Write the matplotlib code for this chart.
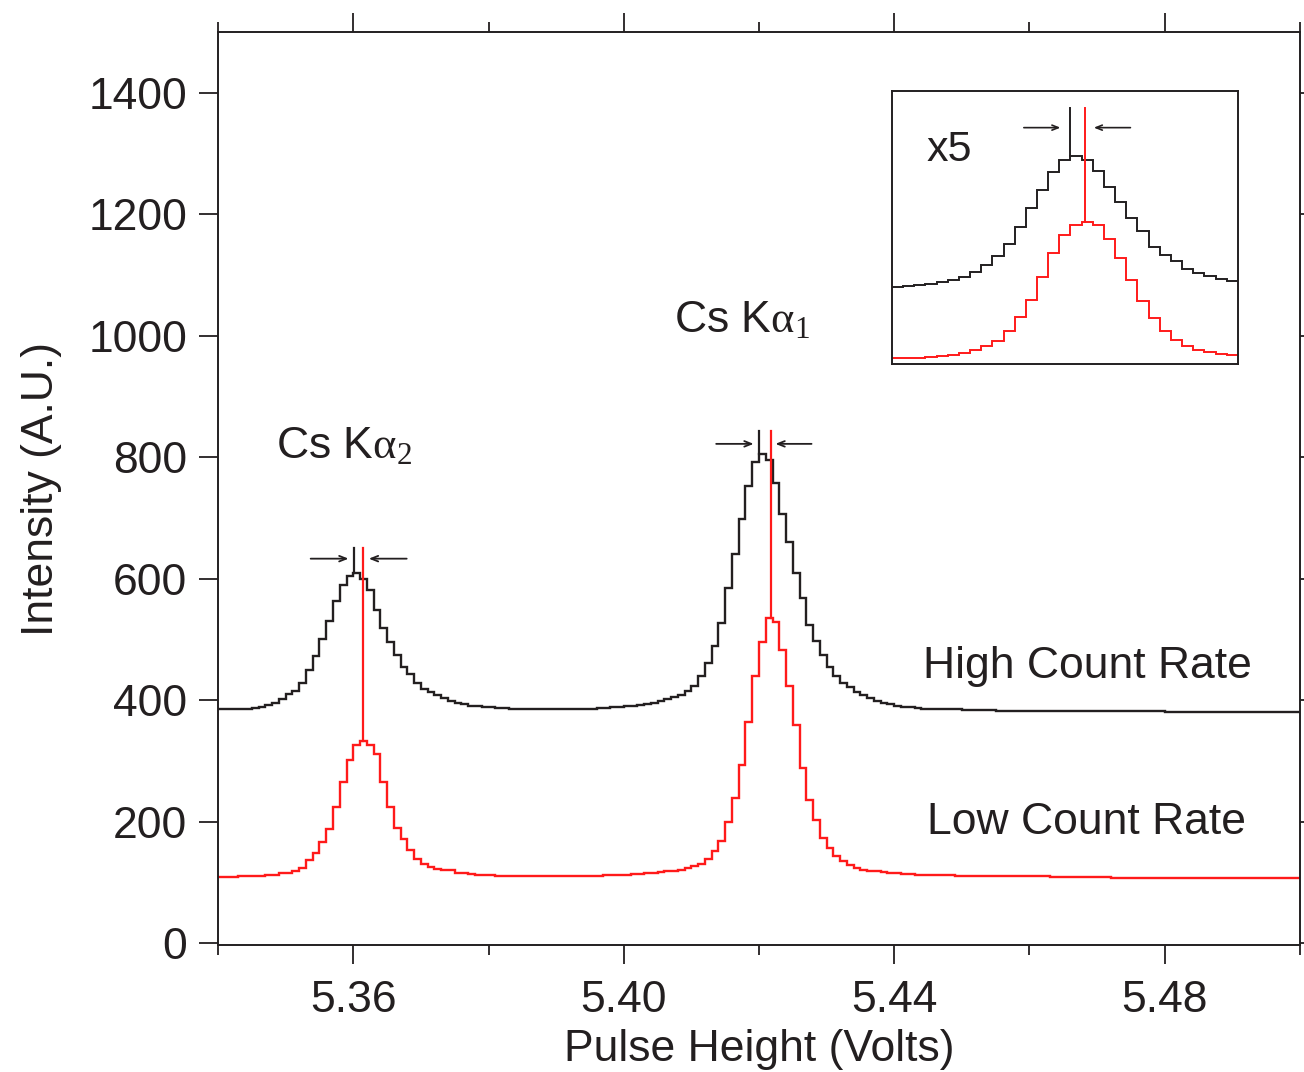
import numpy as np
import matplotlib
matplotlib.use("Agg")
import matplotlib.pyplot as plt

plt.rcParams['font.family'] = ['Liberation Sans', 'DejaVu Sans']
plt.rcParams['mathtext.fontset'] = 'custom'
plt.rcParams['mathtext.rm'] = 'Liberation Serif'
plt.rcParams['mathtext.it'] = 'Liberation Serif:italic'

# histogram bins: 0.001 V wide starting at 5.340 V
bin_start = 5.340
bin_width = 0.001

# high count rate spectrum (black), counts per bin
high_rate = [385, 385, 385, 386, 386, 387, 388, 392, 396, 402,
             410, 415, 428, 449, 473, 501, 531, 564, 589, 604,
             610, 600, 581, 549, 519, 495, 474, 454, 443, 429,
             419, 413, 408, 403, 399, 396, 393, 391, 390, 389,
             388, 387, 387, 386, 386, 385, 385, 385, 385, 385,
             385, 385, 385, 386, 386, 386, 387, 387, 388, 389,
             390, 391, 392, 394, 396, 399, 402, 405, 408, 415,
             424, 440, 462, 490, 527, 584, 641, 699, 752, 792,
             806, 795, 757, 707, 661, 610, 568, 523, 498, 474,
             454, 440, 429, 421, 413, 408, 403, 399, 396, 393,
             391, 389, 388, 387, 386, 386, 385, 385, 385, 385,
             384, 384, 384, 384, 384, 383, 383, 383, 383, 383,
             383, 383, 383, 383, 383, 383, 383, 382, 382, 382,
             382, 382, 382, 382, 382, 382, 382, 382, 382, 382,
             381, 381, 381, 381, 381, 381, 381, 381, 381, 381,
             381, 380, 380, 380, 380, 380, 380, 380, 380, 380]

# low count rate spectrum (red)
low_rate = [109, 109, 109, 110, 110, 110, 111, 112, 113, 115,
            116, 118, 123, 137, 149, 166, 188, 224, 265, 302,
            327, 332, 327, 311, 266, 224, 190, 171, 154, 138,
            131, 126, 122, 121, 120, 116, 115, 114, 113, 112,
            112, 111, 111, 111, 110, 110, 110, 110, 110, 110,
            110, 110, 110, 111, 111, 111, 111, 112, 112, 113,
            113, 114, 114, 115, 116, 117, 118, 119, 121, 123,
            127, 131, 138, 151, 168, 199, 239, 293, 364, 439,
            496, 535, 528, 482, 423, 359, 289, 235, 203, 173,
            156, 144, 136, 128, 123, 121, 119, 118, 117, 116,
            115, 114, 114, 113, 113, 112, 112, 112, 112, 111,
            111, 111, 111, 111, 111, 110, 110, 110, 110, 110,
            110, 110, 110, 109, 109, 109, 109, 109, 109, 109,
            109, 109, 108, 108, 108, 108, 108, 108, 108, 108,
            108, 108, 108, 108, 108, 107, 107, 107, 107, 107,
            107, 107, 107, 107, 107, 107, 107, 107, 107, 107]

# peak centroid markers (x position, bottom, top) and the arrows
ka2_marks_x = [5.36015, 5.3615]
ka2_marks_bottom = [610, 332]
ka1_marks_x = [5.4200, 5.42174]
ka1_marks_bottom = [806, 535]
ka2_mark_top = 650
ka1_mark_top = 844
ka2_arrows = [((5.3537, 633), (5.3593, 633)), ((5.3679, 633), (5.3623, 633))]
ka1_arrows = [((5.41367, 822), (5.41921, 822)), ((5.42777, 822), (5.42243, 822))]

# inset (x5) : Ka1 peak region, arbitrary units
inset_start = 5.404
inset_high = [231, 235, 238, 241, 246, 253, 260, 275, 298, 325,
              360, 413, 468, 523, 576, 613, 626, 613, 580, 533,
              488, 438, 400, 353, 328, 308, 286, 273, 263, 256, 248]
inset_low = [17, 18, 19, 21, 25, 28, 33, 42, 53, 70,
             98, 140, 193, 260, 333, 388, 418, 426, 418, 376,
             318, 253, 188, 138, 98, 73, 55, 43, 35, 30, 28]
inset_marks_x = [5.4200, 5.42134]
inset_marks_bottom = [626, 426]
inset_mark_top = 770
inset_arrows = [((5.41582, 710), (5.41910, 710)), ((5.42537, 710), (5.42209, 710))]

black = '#231f20'
red = '#ff1a1a'
fs = 32

fig = plt.figure(figsize=(13.04, 10.72), dpi=100)
ax = fig.add_axes([0.1672, 0.1185, 0.8297, 0.8516])

edges = bin_start + bin_width * np.arange(len(high_rate) + 1)
ax.stairs(high_rate, edges, color=black, lw=1.7, baseline=None)
ax.stairs(low_rate, edges, color=red, lw=1.7, baseline=None)

for x, b, c in zip(ka2_marks_x, ka2_marks_bottom, [black, red]):
    ax.plot([x, x], [b, ka2_mark_top], color=c, lw=1.6)
for x, b, c in zip(ka1_marks_x, ka1_marks_bottom, [black, red]):
    ax.plot([x, x], [b, ka1_mark_top], color=c, lw=1.6)
for tail, head in ka2_arrows + ka1_arrows:
    ax.annotate('', xy=head, xytext=tail,
                arrowprops=dict(arrowstyle='->,head_length=0.5,head_width=0.2',
                                color=black, lw=1.3, shrinkA=0, shrinkB=0))

ax.text(5.3486, 818, r'Cs K$\mathrm{\alpha}_{\mathrm{2}}$', fontsize=fs, va='center', color=black)
ax.text(5.4075, 1025, r'Cs K$\mathrm{\alpha}_{\mathrm{1}}$', fontsize=fs, va='center', color=black)
ax.text(5.4443, 455, 'High Count Rate', fontsize=fs, va='center', color=black)
ax.text(5.4449, 198, 'Low Count Rate', fontsize=fs, va='center', color=black)

ax.set_xlim(5.34, 5.50)
ax.set_ylim(-3, 1500)
ax.set_xticks([5.36, 5.40, 5.44, 5.48])
ax.set_xticklabels(['5.36', '5.40', '5.44', '5.48'])
ax.set_xticks([5.34, 5.38, 5.42, 5.46, 5.50], minor=True)
ax.set_yticks(range(0, 1401, 200))
ax.tick_params(which='both', direction='out', top=True, right=True,
               labelsize=fs, width=1.3, colors=black)
ax.tick_params(axis='y', pad=8)
ax.tick_params(axis='x', pad=11)
ax.tick_params(which='major', length=14)
ax.tick_params(which='minor', length=7)
for s in ax.spines.values():
    s.set_linewidth(1.4)
    s.set_color(black)
ax.set_xlabel('Pulse Height (Volts)', fontsize=fs, color=black, labelpad=6)
ax.set_ylabel('Intensity (A.U.)', fontsize=fs, color=black, labelpad=19)

# inset
ins = fig.add_axes([0.684, 0.6604, 0.2653, 0.2547])
iedges = inset_start + bin_width * np.arange(len(inset_high) + 1)
ins.stairs(inset_high, iedges, color=black, lw=1.4, baseline=None)
ins.stairs(inset_low, iedges, color=red, lw=1.4, baseline=None)
for x, b, c in zip(inset_marks_x, inset_marks_bottom, [black, red]):
    ins.plot([x, x], [b, inset_mark_top], color=c, lw=1.4)
for tail, head in inset_arrows:
    ins.annotate('', xy=head, xytext=tail,
                 arrowprops=dict(arrowstyle='->,head_length=0.45,head_width=0.18',
                                 color=black, lw=1.2, shrinkA=0, shrinkB=0))
ins.text(0.10, 0.784, 'x5', transform=ins.transAxes, fontsize=31, va='center', color=black)
ins.set_xlim(5.404, 5.435)
ins.set_ylim(0, 820)
ins.set_xticks([])
ins.set_yticks([])
for s in ins.spines.values():
    s.set_linewidth(1.4)
    s.set_color(black)

fig.savefig('out.png', dpi=100)
